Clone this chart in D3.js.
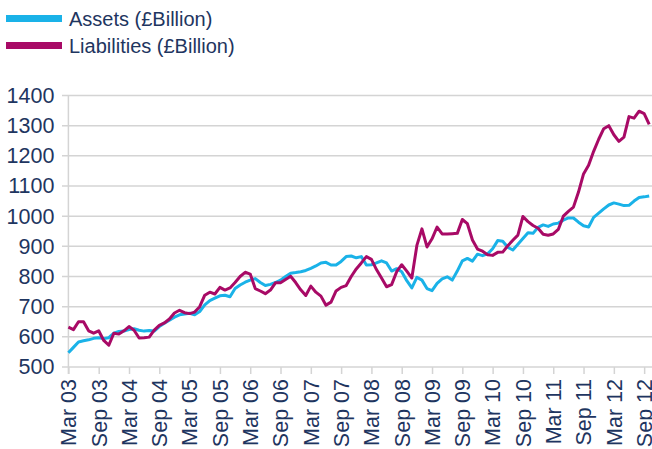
<!DOCTYPE html>
<html>
<head>
<meta charset="utf-8">
<script src="https://cdn.jsdelivr.net/npm/d3@7"></script>
<style>
  body { margin: 0; background: #fff; }
  svg { display: block; font-family: "Liberation Sans", Arial, sans-serif; }
  .grid line { stroke: #d4d4d4; stroke-width: 1.5; }
  .axis path, .axis line { stroke: #d4d4d4; stroke-width: 1.5; }
  .axis text { fill: #1e3560; font-size: 21.5px; }
</style>
</head>
<body>
<svg id="chart" width="652" height="449"></svg>
<script>
// monthly, Mar 03 .. Oct 12
var assets = [547,565,583,587,590,595,597,594,597,612,618,619,624,627,622,619,621,619,634,645,
  655,665,673,676,678,673,684,706,720,728,736,738,733,760,772,781,788,793,
  780,770,774,780,788,800,811,813,816,820,827,835,845,847,838,838,850,866,868,
  862,866,838,839,845,852,845,818,826,816,786,762,797,788,760,753,777,792,799,
  788,818,852,860,851,874,869,875,892,919,917,897,888,907,926,945,943,963,971,
  966,974,977,987,994,994,980,968,964,996,1010,1024,1037,1044,1040,1035,1036,1050,1062,1064,1067];

var liabilities = [632,624,650,650,620,612,620,588,572,612,609,620,634,622,596,597,599,622,638,646,
  659,679,688,680,677,682,700,738,748,742,764,755,762,780,800,814,808,760,
  752,743,755,779,779,790,801,780,756,737,768,748,735,705,715,752,764,770,800,
  825,845,866,857,823,795,766,773,816,839,818,795,903,958,898,925,964,941,941,
  942,943,989,975,921,891,884,872,870,880,881,902,920,937,999,982,969,960,940,
  937,941,956,1000,1016,1030,1080,1140,1169,1215,1255,1290,1300,1270,1248,1262,1330,1325,1348,1340,1304];

var tickLabels = ["Mar 03","Sep 03","Mar 04","Sep 04","Mar 05","Sep 05","Mar 06","Sep 06","Mar 07","Sep 07",
  "Mar 08","Sep 08","Mar 09","Sep 09","Mar 10","Sep 10","Mar 11","Sep 11","Mar 12","Sep 12"];

var yTicks = [500,600,700,800,900,1000,1100,1200,1300,1400];

var seriesNames = ["Assets (£Billion)", "Liabilities (£Billion)"];
var colors = ["#1ab2e8", "#a80a66"];

var svg = d3.select("#chart");

var x = d3.scaleLinear().domain([0, assets.length - 1]).range([68.4, 649.2]);
var y = d3.scaleLinear().domain([500, 1400]).range([367, 95.5]);

// gridlines
svg.append("g")
  .attr("class", "grid")
  .selectAll("line")
  .data(yTicks)
  .enter()
  .append("line")
  .attr("x1", 62)
  .attr("x2", 652)
  .attr("y1", function(d){ return y(d); })
  .attr("y2", function(d){ return y(d); });

// y axis
var yAxis = svg.append("g")
  .attr("class", "axis")
  .attr("transform", "translate(68.4,0)")
  .call(d3.axisLeft(y).tickValues(yTicks).tickSize(0).tickPadding(14).tickFormat(d3.format("d")));
yAxis.select(".domain").remove();

// x axis
var tickIdx = tickLabels.map(function(d, i){ return i * 6; });
var xAxis = svg.append("g")
  .attr("class", "axis")
  .attr("transform", "translate(0,367)")
  .call(d3.axisBottom(x).tickValues(tickIdx).tickSize(7)
    .tickFormat(function(d, i){ return tickLabels[i]; }));
xAxis.select(".domain").remove();
xAxis.selectAll("text")
  .attr("text-anchor", "end")
  .attr("transform", "rotate(-90)")
  .attr("x", -12)
  .attr("y", 0)
  .attr("dy", "0.34em");

// vertical axis line
svg.append("line")
  .attr("x1", x(0)).attr("x2", x(0))
  .attr("y1", y(1400)).attr("y2", 374)
  .attr("stroke", "#d4d4d4").attr("stroke-width", 1.5);

var line = d3.line()
  .x(function(d, i){ return x(i); })
  .y(function(d){ return y(d); });

[assets, liabilities].forEach(function(s, k){
  svg.append("path")
    .datum(s)
    .attr("fill", "none")
    .attr("stroke", colors[k])
    .attr("stroke-width", 3)
    .attr("stroke-linejoin", "round")
    .attr("d", line);
});

// legend
var legend = svg.append("g").selectAll("g")
  .data(seriesNames)
  .enter()
  .append("g")
  .attr("transform", function(d, i){ return "translate(0," + (18.5 + i * 27) + ")"; });
legend.append("rect")
  .attr("x", 6).attr("y", -3.5)
  .attr("width", 56).attr("height", 7)
  .attr("fill", function(d, i){ return colors[i]; });
legend.append("text")
  .attr("x", 69).attr("y", 0).attr("dy", "0.36em")
  .attr("fill", "#1e3560")
  .style("font-size", "20px")
  .text(function(d){ return d; });
</script>
</body>
</html>
